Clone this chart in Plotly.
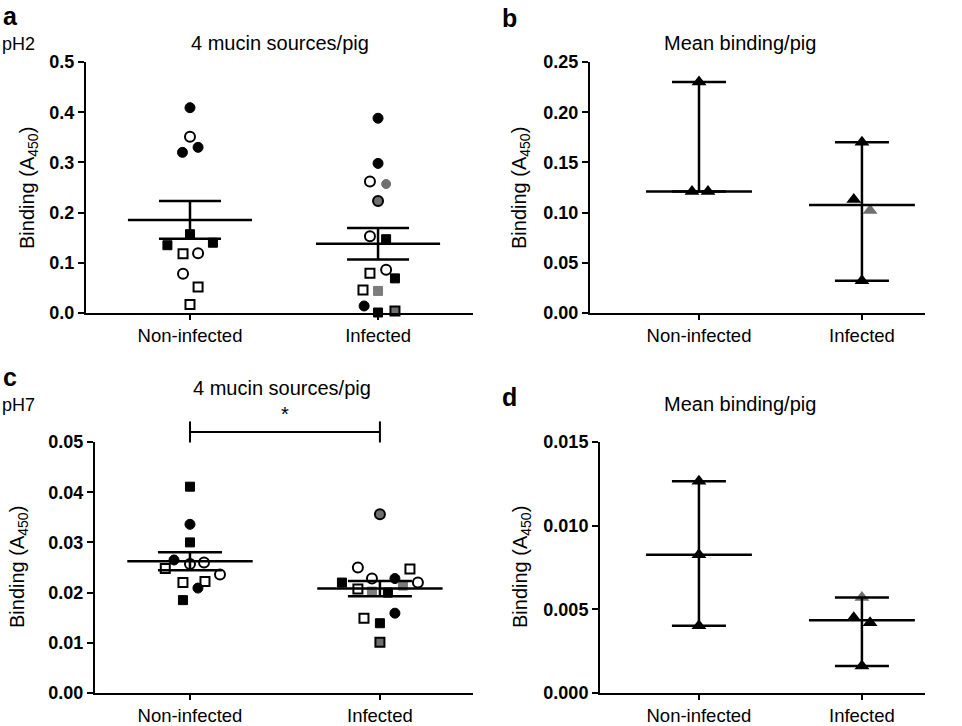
import numpy as np
import plotly.graph_objects as go

W, H = 962, 726
groups = ["Non-infected", "Infected"]
FONT = "Arial, Liberation Sans, Helvetica, sans-serif"

# ---------------- data ----------------
# Panel a: pH2, 4 mucin sources / pig
a_non = [0.409, 0.351, 0.320, 0.330, 0.157, 0.135, 0.140, 0.118, 0.119, 0.078, 0.052, 0.017]
a_non_kind = ["fc", "oc", "fc", "fc", "fs", "fs", "fs", "os", "oc", "oc", "os", "os"]
a_inf = [0.388, 0.298, 0.262, 0.257, 0.223, 0.153, 0.147, 0.086, 0.079, 0.069, 0.046, 0.044, 0.014, 0.001, 0.004]
a_inf_kind = ["fc", "fc", "oc", "gc", "gcb", "oc", "fs", "oc", "os", "fs", "os", "gs", "fc", "fs", "gsb"]

# Panel c: pH7, 4 mucin sources / pig
c_non = [0.0411, 0.0336, 0.0300, 0.0265, 0.0257, 0.0260, 0.0248, 0.0236, 0.0220, 0.0222, 0.0209, 0.0185]
c_non_kind = ["fs", "fc", "fs", "fc", "oc", "oc", "os", "oc", "os", "os", "fc", "fs"]
c_inf = [0.0356, 0.0250, 0.0247, 0.0220, 0.0228, 0.0228, 0.0220, 0.0207, 0.0202, 0.0200, 0.0214, 0.0149, 0.0139, 0.0159, 0.0101]
c_inf_kind = ["gcb", "oc", "os", "fs", "oc", "fc", "oc", "os", "gs", "fs", "gs", "os", "fs", "fc", "gsb"]

# Panel b: pH2, mean binding / pig
b_non = [0.230, 0.121, 0.121]
b_non_kind = ["k", "k", "k"]
b_inf = [0.170, 0.113, 0.102, 0.032]
b_inf_kind = ["k", "k", "g", "k"]

# Panel d: pH7, mean binding / pig
d_non = [0.01265, 0.00826, 0.00402]
d_non_kind = ["k", "k", "k"]
d_inf = [0.00571, 0.00450, 0.00420, 0.00161]
d_inf_kind = ["g", "k", "k", "k"]

# horizontal scatter offsets (category units)
a_non_jit = [0, 0, -0.04, 0.043, 0, -0.12, 0.122, -0.037, 0.043, -0.037, 0.043, 0]
a_inf_jit = [0, 0, -0.043, 0.043, 0, -0.043, 0.043, 0.043, -0.043, 0.09, -0.08, 0, -0.074, 0, 0.09]
c_non_jit = [0, 0, 0, -0.084, 0, 0.074, -0.13, 0.158, -0.037, 0.079, 0.042, -0.037]
c_inf_jit = [0, -0.116, 0.158, -0.2, -0.042, 0.079, 0.2, -0.116, -0.042, 0.042, 0.121, -0.084, 0, 0.079, 0]
b_non_jit = [0, -0.043, 0.055]
b_inf_jit = [0, -0.05, 0.05, 0]
d_non_jit = [0, 0, 0]
d_inf_jit = [0, -0.05, 0.05, 0]

# ---------------- styles ----------------
GRAY = "#6f6f6f"
STY = {
    "fc": ("circle", "black", "black", 1, 10),
    "oc": ("circle", "white", "black", 2, 10),
    "fs": ("square", "black", "black", 1, 9),
    "os": ("square", "white", "black", 2, 9),
    "gc": ("circle", GRAY, GRAY, 1, 9),
    "gcb": ("circle", GRAY, "black", 2, 10),
    "gs": ("square", "#7c7c7c", "#7c7c7c", 1, 9),
    "gsb": ("square", GRAY, "black", 2, 9),
    "k": ("triangle-up", "black", "black", 0, 13),
    "g": ("triangle-up", GRAY, GRAY, 0, 13),
}

# panel geometry in pixels: (left, right, top, bottom)
PAN = {
    "a": (86, 473, 62, 313),
    "b": (590, 925, 62, 313),
    "c": (95, 473, 442, 693),
    "d": (600, 925, 442, 693),
}
XR = {"a": [-0.553, 1.505], "b": [-0.669, 1.387], "c": [-0.5, 1.49], "d": [-0.607, 1.387]}
YR = {"a": [0, 0.5], "b": [0, 0.25], "c": [0, 0.05], "d": [0, 0.015]}
YT = {"a": (0.1, ".1f"), "b": (0.05, ".2f"), "c": (0.01, ".2f"), "d": (0.005, ".3f")}
AX = {"a": ("x", "y"), "b": ("x2", "y2"), "c": ("x3", "y3"), "d": ("x4", "y4")}

fig = go.Figure()


def points(panel, center, vals, kinds, jit):
    xa, ya = AX[panel]
    fig.add_trace(go.Scatter(
        x=[center + j for j in jit], y=vals, mode="markers", xaxis=xa, yaxis=ya,
        cliponaxis=False, showlegend=False, hoverinfo="y",
        marker=dict(symbol=[STY[k][0] for k in kinds], color=[STY[k][1] for k in kinds],
                    size=[STY[k][4] for k in kinds], opacity=1,
                    line=dict(color=[STY[k][2] for k in kinds], width=[STY[k][3] for k in kinds])),
    ))


def center_bar(panel, center, level, up, down, halfw, capw):
    xa, ya = AX[panel]
    fig.add_trace(go.Scatter(
        x=[center - halfw, center + halfw], y=[level, level], mode="lines",
        xaxis=xa, yaxis=ya, line=dict(color="black", width=2.5), showlegend=False, hoverinfo="skip"))
    fig.add_trace(go.Scatter(
        x=[center], y=[level], mode="markers", xaxis=xa, yaxis=ya, showlegend=False,
        marker=dict(size=1, color="rgba(0,0,0,0)"), hoverinfo="skip", cliponaxis=False,
        error_y=dict(type="data", symmetric=False, array=[up], arrayminus=[down],
                     color="black", thickness=2.5, width=capw, visible=True)))


def mean_sem(panel, center, vals, capw):
    v = np.array(vals)
    m = v.mean()
    s = v.std(ddof=1) / np.sqrt(len(v))
    center_bar(panel, center, m, s, s, 0.33, capw)


def median_range(panel, center, vals, capw):
    v = np.array(vals)
    med = float(np.median(v))
    center_bar(panel, center, med, v.max() - med, med - v.min(), 0.325, capw)


# panel a
points("a", 0, a_non, a_non_kind, a_non_jit)
points("a", 1, a_inf, a_inf_kind, a_inf_jit)
mean_sem("a", 0, a_non, 31)
mean_sem("a", 1, a_inf, 31)
# panel c
points("c", 0, c_non, c_non_kind, c_non_jit)
points("c", 1, c_inf, c_inf_kind, c_inf_jit)
mean_sem("c", 0, c_non, 32)
mean_sem("c", 1, c_inf, 32)
# panel b
points("b", 0, b_non, b_non_kind, b_non_jit)
points("b", 1, b_inf, b_inf_kind, b_inf_jit)
median_range("b", 0, b_non, 27)
median_range("b", 1, b_inf, 27)
# panel d
points("d", 0, d_non, d_non_kind, d_non_jit)
points("d", 1, d_inf, d_inf_kind, d_inf_jit)
median_range("d", 0, d_non, 27)
median_range("d", 1, d_inf, 27)

layout = dict(width=W, height=H, margin=dict(l=0, r=0, t=0, b=0, autoexpand=False),
              plot_bgcolor="white", paper_bgcolor="white",
              font=dict(family=FONT, color="black", size=16), showlegend=False)

for p, (l, r, t, b) in PAN.items():
    xa, ya = AX[p]
    xk = "xaxis" + xa[1:]
    yk = "yaxis" + ya[1:]
    step, fmt = YT[p]
    n = int(round((YR[p][1] - YR[p][0]) / step))
    layout[xk] = dict(domain=[l / W, r / W], range=XR[p], anchor=ya,
                      tickvals=[0, 1], ticktext=groups, showline=True, linecolor="black",
                      linewidth=2, ticks="outside", ticklen=5, tickwidth=2, tickcolor="black",
                      showgrid=False, zeroline=False, automargin=False,
                      tickfont=dict(size=18.5, family=FONT))
    layout[yk] = dict(domain=[1 - b / H, 1 - t / H], range=YR[p], anchor=xa,
                      tickvals=[round(i * step, 4) for i in range(n + 1)], tickformat=fmt,
                      showline=True, linecolor="black", linewidth=2, ticks="outside",
                      ticklen=6, tickwidth=2, tickcolor="black", showgrid=False, zeroline=False,
                      automargin=False, tickfont=dict(size=18, family=FONT, weight="bold"))

fig.update_layout(**layout)

ann = []


def txt(x, y, s, size, bold=False, xanchor="center", angle=0):
    ann.append(dict(x=x / W, y=1 - y / H, xref="paper", yref="paper", text=s, showarrow=False,
                    xanchor=xanchor, yanchor="middle", textangle=angle,
                    font=dict(size=size, family=FONT, color="black", weight="bold" if bold else "normal")))


txt(1, 16, "a", 25, True, "left")
txt(500, 18, "b", 25, True, "left")
txt(1, 377, "c", 25, True, "left")
txt(500, 397, "d", 25, True, "left")
txt(0, 44, "pH2", 18, False, "left")
txt(0, 405, "pH7", 18, False, "left")
txt(280, 43, "4 mucin sources/pig", 20)
txt(740, 43, "Mean binding/pig", 20)
txt(282, 388, "4 mucin sources/pig", 20)
txt(740, 404, "Mean binding/pig", 20)
ytitle = "Binding (A<sub>450</sub>)"
txt(29, 188, ytitle, 20, angle=-90)
txt(521, 188, ytitle, 20, angle=-90)
txt(18, 567, ytitle, 20, angle=-90)
txt(521, 567, ytitle, 20, angle=-90)

# significance bracket, panel c (drawn above the axis range)
sig_y, sig_tick = 0.0520, 0.0021
xr, yr = XR["c"], YR["c"]
fx = lambda v: (v - xr[0]) / (xr[1] - xr[0])
fy = lambda v: (v - yr[0]) / (yr[1] - yr[0])
shapes = [
    dict(type="line", xref="x3 domain", yref="y3 domain", x0=fx(0), x1=fx(1), y0=fy(sig_y), y1=fy(sig_y),
         line=dict(color="black", width=2)),
    dict(type="line", xref="x3 domain", yref="y3 domain", x0=fx(0), x1=fx(0), y0=fy(sig_y - sig_tick),
         y1=fy(sig_y + sig_tick), line=dict(color="black", width=2)),
    dict(type="line", xref="x3 domain", yref="y3 domain", x0=fx(1), x1=fx(1), y0=fy(sig_y - sig_tick),
         y1=fy(sig_y + sig_tick), line=dict(color="black", width=2)),
]
ann.append(dict(x=fx(0.5), y=fy(0.0555), xref="x3 domain", yref="y3 domain", text="*", showarrow=False,
                xanchor="center", yanchor="middle", font=dict(size=20, family=FONT, color="black")))

fig.update_layout(annotations=ann, shapes=shapes)
fig.write_html("out.html", config={"displayModeBar": False},
               post_script="document.body.style.margin='0px';")
